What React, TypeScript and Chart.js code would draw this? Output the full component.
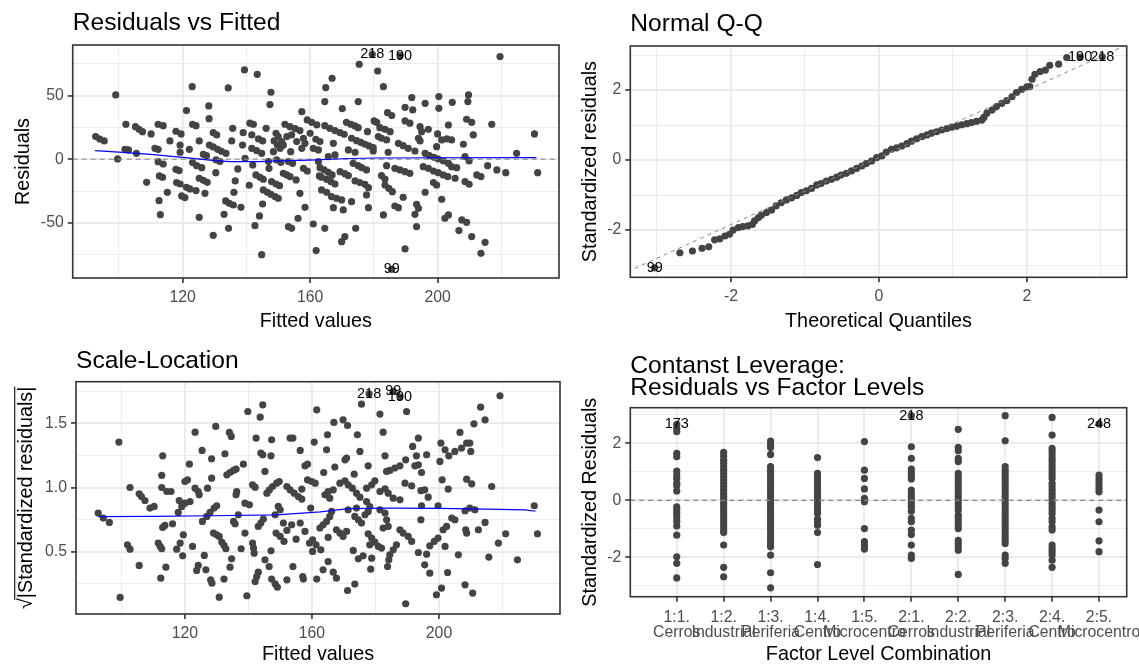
import React, { useEffect, useRef } from 'react';
import { Chart, registerables } from 'chart.js';

Chart.register(...registerables);

const FONT = '"Liberation Sans", Arial, Helvetica, sans-serif';
const POINT_COLOR = '#444444';
const GRID_COLOR = '#EBEBEB';
const AXIS_COLOR = '#333333';
const TICK_TEXT = '#4D4D4D';
const SMOOTH_COLOR = '#0000FF';
const REF_COLOR = '#888888';
const POINT_RADIUS = 3.6;
const TITLE_SIZE = 24.6;

type Pt = [number, number];

// ---------------- Residuals vs Fitted ----------------
const FIT_MIN = 85.5;
const FIT_MAX = 238.1;
const RES_MIN = -93.2;
const RES_MAX = 89.7;
const fittedTicks = [100, 120, 140, 160, 180, 200, 220];
const fittedMajor = [120, 160, 200];
const residTicks = [-75, -50, -25, 0, 25, 50, 75];
const residMajor = [-50, 0, 50];

const residVsFitted: Pt[] = [
  [92.7, 17.8], [94.0, 15.9], [95.4, 14.4], [99.0, 50.5], [99.6, 0.3], [102.2, 27.5], [101.9, 7.8], [103.0, 7.3], [105.2, 25.6], [106.3, 23.5],
  [107.4, 21.7], [105.5, 4.7], [108.7, -18.1], [110.1, 19.9], [111.3, 8.6], [112.3, 7.8], [112.3, 27.5], [113.9, 26.4], [112.3, -1.9], [113.9, -3.7],
  [112.7, -13.1], [113.7, -14.1], [112.6, -32.5], [113.0, -43.5], [115.2, -25.9], [116.0, 14.4], [117.9, 22.0], [119.5, 19.9], [117.9, -7.9], [118.9, -8.9],
  [118.1, -18.3], [119.2, -19.4], [119.2, 11.2], [119.2, 5.5], [119.7, -28.8], [120.7, -30.1], [121.2, 38.2], [121.2, -22.0], [122.3, -23.3], [122.1, 7.8],
  [123.0, 57.0], [123.1, 27.5], [124.2, 26.4], [123.1, -2.6], [124.4, -5.0], [126.0, -6.6], [124.2, -24.6], [125.2, 14.4], [125.2, -14.9], [126.5, -16.5],
  [127.7, -18.1], [125.2, -45.6], [126.5, 3.9], [127.5, 2.9], [127.0, -26.7], [128.2, 41.9], [128.3, 31.9], [128.4, 11.2], [129.6, 9.7], [131.0, 7.8],
  [132.2, 6.3], [133.6, 4.7], [129.6, 20.9], [130.7, 19.1], [129.6, -59.7], [130.4, -10.5], [130.5, -0.5], [131.7, -1.8], [133.0, -43.2], [133.5, -32.7],
  [134.6, -34.6], [135.9, -35.9], [134.3, 56.0], [134.4, -54.2], [135.4, 14.4], [135.7, 24.3], [136.1, -25.9], [136.5, -17.0], [137.3, -7.6], [138.3, -37.7],
  [138.8, 11.2], [139.0, 20.9], [139.4, 70.1], [139.6, 0.8], [140.9, -20.4], [141.1, 28.3], [142.2, 27.5], [141.7, 19.1], [141.7, 8.6], [143.2, 6.8],
  [144.8, 4.7], [142.0, -4.5], [142.7, -52.1], [143.4, 66.7], [143.8, 16.0], [145.1, 14.4], [143.0, -12.3], [144.3, -14.1], [145.3, -15.7], [144.1, -44.5],
  [144.8, -74.9], [145.1, -35.1], [145.3, -24.1], [146.6, -25.9], [147.7, -27.5], [149.0, -29.3], [150.0, -30.6], [146.2, 24.3], [146.9, -1.8], [147.1, -7.1],
  [147.4, 42.9], [147.7, 52.6], [147.9, -17.5], [149.3, -19.4], [150.4, -20.7], [149.3, 20.4], [150.0, 17.8], [151.1, 13.9], [151.6, 11.2], [148.7, 14.4],
  [149.7, 11.2], [150.6, 8.6], [151.6, -11.0], [152.7, -12.3], [153.7, -13.6], [152.1, 27.5], [153.7, 25.6], [155.3, 24.1], [156.8, 22.5], [153.2, -52.9],
  [154.2, -54.2], [153.9, 6.0], [155.6, -16.2], [156.2, -46.3], [156.8, -26.7], [157.4, 37.4], [157.4, 8.6], [158.4, 12.5], [157.9, -7.1], [159.1, -9.2],
  [158.4, -37.7], [159.1, 30.9], [160.5, 29.0], [162.1, 27.0], [160.0, 20.4], [161.0, -50.8], [161.9, -71.7], [161.0, 8.6], [162.6, 7.3], [162.6, -1.8],
  [162.9, -13.1], [153.2, -1.8], [154.5, -3.2], [149.5, -0.5], [150.8, -2.4], [148.5, 6.0], [152.7, 17.8], [155.8, 13.9], [154.2, 19.1], [157.9, 16.5],
  [175.4, 74.6], [179.5, 82.4], [188.2, 81.4], [181.2, 69.3], [166.9, 63.6], [164.9, 56.3], [164.6, 45.3], [175.1, 45.3], [183.0, 57.0], [170.1, 39.8],
  [191.9, 48.4], [189.8, 40.8], [192.2, 38.7], [196.1, 43.9], [200.4, 49.2], [200.4, 40.0], [204.6, 44.7], [209.7, 50.5], [209.5, 45.3], [219.6, 80.6],
  [184.3, 36.6], [185.6, 34.3], [180.1, 30.1], [180.9, 29.0], [189.8, 30.1], [191.3, 28.3], [194.5, 25.6], [195.0, 21.7], [197.1, 23.5], [209.1, 31.4],
  [210.7, 29.0], [217.0, 27.5], [230.4, 19.9], [164.6, 26.4], [166.2, 24.3], [167.8, 22.5], [169.4, 20.9], [170.7, 19.6], [171.4, 29.0], [172.8, 27.5],
  [174.1, 26.2], [175.1, 24.8], [178.0, 21.7], [181.9, 24.8], [183.5, 23.5], [185.1, 21.7], [200.0, 19.9], [203.4, 26.9], [211.2, 19.1], [161.8, 15.7],
  [163.1, 13.9], [167.3, 12.5], [173.0, 16.5], [174.6, 14.6], [175.9, 13.3], [177.2, 11.8], [178.5, 10.5], [179.8, 9.1], [181.4, 17.8], [182.4, 16.5],
  [184.0, 15.2], [187.7, 12.5], [189.2, 10.7], [190.8, 8.6], [194.0, 16.5], [194.5, 14.4], [201.3, 15.2], [202.9, 16.0], [204.4, 15.2], [199.7, 9.9],
  [208.1, 11.8], [172.0, 7.3], [174.1, 5.5], [167.8, 3.4], [165.7, 2.1], [224.8, 4.7], [179.8, 6.5], [184.5, 5.5], [192.9, 6.5], [196.1, 4.7],
  [197.4, 2.9], [198.9, 1.6], [200.2, 0.2], [201.8, -1.3], [203.4, -3.2], [208.6, 2.1], [209.9, -1.3], [215.7, -5.0], [218.6, -8.4], [221.4, -10.5],
  [231.4, -10.5], [163.1, -6.6], [164.4, -8.4], [165.7, -10.2], [166.9, -12.3], [163.6, -14.1], [165.2, -15.7], [166.5, -17.5], [167.8, -19.4], [169.4, -9.7],
  [170.9, -11.3], [172.0, -12.8], [173.5, -3.2], [175.1, -5.0], [174.1, -17.0], [175.6, -18.3], [177.2, -19.7], [176.2, -6.6], [177.7, -8.4], [184.0, -5.0],
  [186.6, -7.1], [188.2, -8.4], [189.8, -9.7], [191.3, -11.0], [195.5, -5.8], [197.1, -7.1], [198.7, -9.2], [200.2, -10.5], [201.8, -12.3], [203.2, -13.6],
  [204.4, -5.8], [206.0, -6.6], [205.5, -14.9], [208.6, -17.5], [209.9, -19.6], [212.3, -12.3], [213.6, -13.6], [182.4, -12.8], [183.5, -15.5], [178.3, -22.3],
  [183.5, -20.2], [184.7, -22.8], [185.8, -25.4], [198.7, -18.3], [199.7, -20.2], [196.1, -25.9], [163.6, -24.1], [165.2, -25.9], [166.7, -29.3], [168.3, -30.6],
  [169.9, -31.9], [173.0, -33.3], [177.7, -28.0], [178.3, -38.0], [189.2, -29.8], [186.6, -36.7], [187.7, -38.0], [167.3, -38.0], [170.4, -39.8], [183.0, -43.7],
  [193.4, -35.3], [194.0, -38.5], [192.9, -43.2], [201.3, -31.4], [202.3, -46.3], [203.4, -43.7], [207.6, -47.6], [209.1, -49.5], [164.6, -54.2], [174.3, -54.2],
  [170.9, -60.7], [169.9, -64.7], [193.4, -52.9], [206.7, -56.0], [210.7, -60.7], [214.9, -65.2], [213.6, -73.8], [189.8, -70.4], [185.6, -86.4],
];
const residSmooth: Pt[] = [
  [92.5, 6.8], [100, 5.6], [110, 3.9], [120, 1.5], [130, -1.0], [135, -1.8], [144, -1.8], [150, -1.2],
  [160, -0.6], [170, 0.4], [180, 1.0], [200, 1.2], [231, 1.3],
];
const residLabelText = ['218', '190', '99'];
const residLabelPos: Pt[] = [[179.5, 82.4], [188.2, 81.4], [185.6, -86.4]];

// ---------------- Normal Q-Q ----------------
const QQX_MIN = -3.36;
const QQX_MAX = 3.35;
const QQY_MIN = -3.35;
const QQY_MAX = 3.26;
const qqTicks = [-3, -2, -1, 0, 1, 2, 3];
const qqMajor = [-2, 0, 2];
const qqPoints: Pt[] = [
  [-3.03, -3.08], [-2.69, -2.65], [-2.52, -2.60], [-2.39, -2.52], [-2.30, -2.48], [-2.22, -2.28], [-2.15, -2.25], [-2.08, -2.17], [-2.02, -2.12], [-1.97, -2.00],
  [-1.90, -1.93], [-1.84, -1.90], [-1.77, -1.88], [-1.71, -1.84], [-1.68, -1.74], [-1.63, -1.65], [-1.59, -1.58], [-1.52, -1.50], [-1.45, -1.43], [-1.39, -1.31],
  [-1.32, -1.22], [-1.25, -1.14], [-1.18, -1.08], [-1.11, -1.01], [-1.05, -0.93], [-0.98, -0.88], [-0.91, -0.81], [-0.84, -0.71], [-0.78, -0.67], [-0.71, -0.60],
  [-0.64, -0.55], [-0.57, -0.49], [-0.51, -0.43], [-0.44, -0.38], [-0.37, -0.31], [-0.30, -0.24], [-0.23, -0.17], [-0.17, -0.10], [-0.10, -0.03], [-0.03, 0.07],
  [0.04, 0.12], [0.10, 0.23], [0.17, 0.31], [0.24, 0.35], [0.31, 0.40], [0.38, 0.47], [0.44, 0.54], [0.51, 0.61], [0.58, 0.67], [0.65, 0.72],
  [0.71, 0.77], [0.78, 0.81], [0.85, 0.86], [0.92, 0.90], [0.98, 0.94], [1.05, 0.97], [1.12, 1.01], [1.19, 1.04], [1.25, 1.07], [1.32, 1.11],
  [1.39, 1.14], [1.42, 1.22], [1.46, 1.34], [1.53, 1.43], [1.59, 1.53], [1.66, 1.62], [1.73, 1.70], [1.80, 1.81], [1.86, 1.93], [1.93, 2.02],
  [2.00, 2.09], [2.04, 2.10], [2.07, 2.31], [2.11, 2.45], [2.18, 2.53], [2.25, 2.57], [2.31, 2.71], [2.43, 2.74], [2.54, 2.93], [2.72, 2.94],
  [3.02, 2.95],
];
const qqLine: Pt[] = [[-3.4, -3.19], [3.4, 3.34]];
const qqLabelText = ['99', '190', '218'];
const qqLabelPos: Pt[] = [[-3.03, -3.08], [2.72, 2.94], [3.02, 2.95]];

// ---------------- Scale-Location ----------------
const SL_MIN = 0.015;
const SL_MAX = 1.824;
const slTicks = [0.25, 0.5, 0.75, 1.0, 1.25, 1.5, 1.75];
const slMajor = [0.5, 1.0, 1.5];
const scaleLocation: Pt[] = [
  [92.7, 0.801], [94.3, 0.762], [96.2, 0.728], [99.2, 1.354], [99.6, 0.144], [101.9, 0.554], [102.7, 0.520], [102.7, 1.000], [105.6, 0.951], [106.3, 0.930],
  [107.4, 0.899], [109.0, 0.840], [110.3, 0.853], [105.6, 0.393], [111.6, 0.567], [112.2, 0.541], [112.7, 0.523], [112.4, 0.294], [113.0, 1.247], [112.7, 1.094],
  [112.7, 1.000], [114.3, 0.969], [115.6, 0.969], [113.0, 0.689], [113.7, 0.705], [114.0, 0.380], [116.1, 0.718], [117.4, 0.520], [118.5, 0.567], [117.9, 0.806],
  [119.0, 0.853], [120.0, 0.878], [121.6, 0.891], [118.2, 0.899], [119.3, 0.468], [119.5, 0.632], [120.0, 1.047], [120.8, 1.060], [121.4, 1.182], [122.4, 0.541],
  [123.2, 1.431], [123.2, 0.995], [124.2, 0.969], [124.5, 0.943], [123.7, 0.354], [124.2, 0.393], [125.4, 1.289], [125.5, 0.736], [126.9, 0.775], [126.1, 0.471],
  [126.6, 0.359], [127.1, 0.995], [128.4, 1.224], [128.4, 1.073], [128.1, 0.281], [128.5, 0.255], [127.9, 0.806], [129.2, 0.840], [130.0, 0.858], [129.0, 0.645],
  [130.0, 0.632], [130.8, 0.619], [129.7, 1.476], [130.8, 0.146], [131.6, 0.575], [132.3, 0.549], [132.9, 0.523], [132.3, 0.287], [132.6, 1.263], [133.2, 1.099],
  [134.2, 1.117], [135.3, 1.133], [136.1, 1.143], [134.0, 1.429], [134.6, 1.398], [134.2, 0.380], [134.7, 0.445], [135.3, 0.736], [135.8, 0.718], [136.3, 0.969],
  [136.1, 0.943], [136.8, 0.788], [137.7, 0.523], [138.4, 1.182], [138.9, 0.878], [140.3, 0.865], [138.9, 0.645], [139.5, 0.157], [139.8, 1.592], [141.3, 1.021],
  [142.1, 1.003], [141.3, 0.567], [141.6, 0.528], [141.8, 0.489], [142.1, 0.268], [142.6, 0.307], [143.1, 0.341], [142.4, 1.385], [143.1, 0.697], [143.9, 0.723],
  [144.7, 0.754], [143.7, 1.548], [143.9, 1.268], [144.5, 1.255], [144.5, 1.644], [145.2, 1.125], [145.2, 0.437], [145.8, 0.956], [146.6, 0.982], [147.6, 1.008],
  [148.9, 1.034], [149.7, 1.047], [146.5, 0.385], [147.1, 0.507], [147.3, 1.372], [147.1, 1.247], [147.3, 0.287], [148.4, 0.250], [149.1, 0.224], [148.4, 0.788],
  [149.4, 0.853], [150.0, 0.827], [148.7, 0.645], [150.0, 0.619], [151.2, 0.580], [151.0, 0.723], [152.1, 0.666], [152.1, 1.008], [153.1, 0.982], [154.4, 0.956],
  [155.7, 0.930], [156.8, 0.910], [152.1, 0.281], [153.1, 1.385], [154.0, 1.385], [153.6, 0.710], [154.0, 0.385], [155.0, 0.598], [156.3, 1.289], [156.3, 0.723],
  [157.8, 0.658], [156.8, 0.988], [157.1, 0.307], [157.3, 0.287], [157.8, 1.169], [158.6, 1.182], [158.6, 1.060], [159.9, 1.047], [161.0, 1.034], [159.2, 0.567],
  [160.2, 0.593], [161.3, 0.554], [159.6, 0.840], [160.2, 0.502], [160.7, 1.354], [161.5, 1.605], [161.5, 0.287],
  [178.0, 1.730], [185.6, 1.748], [187.7, 1.704], [164.9, 1.411], [164.6, 1.294], [166.9, 1.507], [169.8, 1.527], [171.2, 1.483], [174.3, 1.411], [175.1, 1.281],
  [175.6, 1.649], [181.4, 1.572], [182.4, 1.431], [183.0, 1.247], [189.8, 1.592], [193.5, 1.385], [191.7, 1.320], [189.5, 1.216], [187.7, 1.169], [186.1, 1.151],
  [184.5, 1.133], [183.5, 1.125], [192.4, 1.169], [193.5, 1.177], [192.9, 1.247], [196.1, 1.255], [194.5, 1.117], [177.7, 1.169], [179.8, 1.052], [178.8, 1.021],
  [177.2, 0.995], [167.2, 1.159], [170.4, 1.216], [170.9, 1.229], [163.7, 1.117], [173.3, 1.104], [168.8, 1.034], [170.4, 1.052], [171.4, 1.021], [172.7, 0.995],
  [174.0, 0.956], [175.1, 0.925], [164.1, 0.943], [165.1, 0.969], [166.7, 0.982], [165.6, 0.917], [183.0, 0.990], [184.0, 0.956], [185.6, 0.917], [187.7, 0.904],
  [181.4, 0.969], [189.3, 1.034], [191.4, 1.013], [194.3, 0.975], [195.5, 0.982], [196.6, 0.925], [201.0, 1.060], [202.9, 0.988], [200.3, 1.203], [201.9, 1.294],
  [203.1, 1.247], [205.0, 1.281], [200.6, 1.346], [206.6, 1.429], [207.1, 1.307], [208.7, 1.346], [209.7, 1.346], [210.0, 1.281], [211.0, 1.496], [213.1, 1.626],
  [214.5, 1.527], [219.2, 1.714], [208.7, 1.065], [210.3, 1.029], [216.6, 1.008], [177.2, 0.891], [178.2, 0.852], [177.7, 0.814], [176.7, 0.788], [174.0, 0.840],
  [173.5, 0.775], [174.6, 0.749], [175.6, 0.723], [171.4, 0.827], [170.9, 0.658], [169.8, 0.619], [167.7, 0.671], [168.8, 0.645], [166.2, 0.814], [165.6, 0.775],
  [164.6, 0.736], [163.5, 0.710], [162.5, 0.684], [165.1, 0.611], [162.8, 0.515], [177.7, 0.640], [178.8, 0.606], [179.8, 0.575], [180.9, 0.541], [181.9, 0.528],
  [178.2, 0.554], [181.4, 0.827], [183.0, 0.801], [183.5, 0.749], [184.0, 0.697], [182.4, 0.684], [187.7, 0.671], [188.7, 0.645], [190.3, 0.619], [191.4, 0.580],
  [186.6, 0.554], [185.6, 0.515], [184.5, 0.476], [184.2, 0.437], [173.0, 0.510], [174.6, 0.445], [176.1, 0.468], [178.8, 0.450], [178.5, 0.364], [183.8, 0.385],
  [194.5, 0.858], [193.5, 0.494], [196.1, 0.481], [195.5, 0.398], [197.1, 0.333], [194.3, 0.749], [197.1, 0.546], [198.5, 0.580], [199.7, 0.606], [201.3, 0.671],
  [202.4, 0.697], [201.9, 0.541], [199.7, 0.858], [204.0, 0.762], [205.0, 0.749], [202.7, 0.338], [206.1, 0.476], [208.7, 0.645], [208.4, 0.671], [208.2, 0.819],
  [209.7, 0.840], [211.3, 0.827], [212.4, 0.671], [214.5, 0.728], [215.7, 0.458], [218.7, 0.567], [221.0, 0.640], [224.7, 0.437], [230.0, 0.858], [231.0, 0.640],
  [165.1, 0.424], [163.5, 0.359], [166.7, 0.341], [167.7, 0.294], [173.5, 0.248], [171.2, 0.198], [200.8, 0.217], [199.2, 0.165], [208.2, 0.242], [210.6, 0.178],
  [189.5, 0.095],
];
const slSmooth: Pt[] = [
  [92.7, 0.774], [110, 0.776], [128.4, 0.78], [148.9, 0.787], [162.6, 0.81], [171.4, 0.835], [185, 0.84],
  [200, 0.838], [215, 0.832], [227.2, 0.826], [230.4, 0.815],
];
const slLabelText = ['218', '99', '190'];
const slLabelPos: Pt[] = [[178.0, 1.730], [185.6, 1.748], [187.7, 1.704]];
const SL_YTITLE = '\u221A|Standardized residuals|';

// ---------------- Residuals vs Factor Levels ----------------
const LEV_MIN = -0.99;
const LEV_MAX = 9.59;
const LEVY_MIN = -3.38;
const LEVY_MAX = 3.25;
const levTicks = [0, 1, 2, 3, 4, 5, 6, 7, 8, 9];
const levYTicks = [-3, -2, -1, 0, 1, 2, 3];
const levYMajor = [-2, 0, 2];
const factorLabels: string[][] = [
  ['1:1.', 'Cerros'], ['1:2.', 'Industrial'], ['1:3.', 'Periferia'], ['1:4.', 'Centro'], ['1:5.', 'Microcentro'],
  ['2:1.', 'Cerros'], ['2:2.', 'Industrial'], ['2:3.', 'Periferia'], ['2:4.', 'Centro'], ['2:5.', 'Microcentro'],
];
const lev11Cerros = [2.67, 2.53, 2.41, 1.65, 1.53, 1.03, 0.89, 0.77, 0.60, 0.51, 0.33, -0.23, -0.34, -0.46, -0.58, -0.73, -0.90, -1.22, -1.98, -2.21, -2.72];
const lev12Industrial = [1.68, 1.55, 1.41, 1.30, 1.18, 1.06, 0.95, 0.83, 0.71, 0.60, 0.48, 0.36, 0.24, 0.13, 0.01, -0.11, -0.23, -0.34, -0.46, -0.58, -0.69, -0.81, -0.93, -1.04, -1.13, -1.57, -2.35, -2.68];
const lev13Periferia = [2.08, 1.96, 1.85, 1.61, 1.18, 1.06, 0.95, 0.83, 0.71, 0.60, 0.48, 0.36, 0.24, 0.13, 0.01, -0.11, -0.23, -0.34, -0.46, -0.58, -0.69, -0.81, -0.93, -1.04, -1.16, -1.28, -1.40, -1.51, -1.63, -1.92, -2.54, -3.07];
const lev14Centro = [1.50, 0.95, 0.83, 0.71, 0.60, 0.48, 0.36, 0.24, 0.13, 0.01, -0.11, -0.23, -0.34, -0.46, -0.66, -0.78, -0.87, -1.13, -2.25];
const lev15Microcentro = [2.06, 1.06, 0.77, 0.40, 0.07, -0.05, -0.99, -1.45, -1.59, -1.71];
const lev21Cerros = [2.97, 1.88, 1.47, 1.10, 0.98, 0.86, 0.75, 0.36, 0.24, 0.13, 0.01, -0.11, -0.23, -0.38, -0.63, -0.75, -1.04, -1.20, -1.57, -1.92, -2.04];
const lev22Industrial = [2.49, 1.86, 1.74, 1.47, 1.36, 0.95, 0.83, 0.71, 0.60, 0.48, 0.36, 0.24, 0.13, 0.01, -0.11, -0.23, -0.34, -0.52, -0.63, -0.75, -0.87, -0.99, -1.40, -1.51, -1.63, -1.75, -2.60];
const lev23Periferia = [2.97, 2.09, 1.18, 1.06, 0.95, 0.83, 0.71, 0.60, 0.48, 0.36, 0.24, 0.13, 0.01, -0.11, -0.23, -0.34, -0.46, -0.58, -0.69, -0.81, -0.93, -1.04, -1.16, -1.28, -1.40, -1.51, -1.92, -2.04, -2.21];
const lev24Centro = [2.91, 2.29, 1.82, 1.71, 1.59, 1.47, 1.36, 1.24, 1.12, 1.00, 0.89, 0.77, 0.60, 0.48, 0.36, 0.24, 0.13, 0.01, -0.11, -0.23, -0.34, -0.46, -0.63, -0.75, -0.93, -1.04, -1.57, -1.69, -1.80, -1.92, -2.10, -2.35];
const lev25Microcentro = [2.68, 0.89, 0.77, 0.65, 0.54, 0.42, 0.30, -0.34, -0.75, -1.42, -1.80];
const levelGroups = [
  lev11Cerros, lev12Industrial, lev13Periferia, lev14Centro, lev15Microcentro,
  lev21Cerros, lev22Industrial, lev23Periferia, lev24Centro, lev25Microcentro,
];
const levLabelText = ['173', '218', '248'];
const levLabelPos: Pt[] = [[0, 2.67], [5, 2.97], [9, 2.68]];

// ---------------- helpers ----------------
const isIn = (arr: number[], v: number) => arr.some((m) => Math.abs(m - v) < 1e-9);

interface AxisSpec {
  min: number;
  max: number;
  ticks: number[];
  majors: number[];
  fmt: (v: number) => string | string[];
  size: number;
  horizontal: boolean;
  title: string;
  titlePad: { top: number; bottom: number };
  tickPad: number;
  tickLineHeight?: number;
}

function makeAxis(s: AxisSpec) {
  return {
    type: 'linear',
    position: s.horizontal ? 'bottom' : 'left',
    min: s.min,
    max: s.max,
    bounds: 'data',
    afterBuildTicks: (scale: any) => {
      scale.ticks = s.ticks.map((v) => ({ value: v }));
    },
    afterFit: (scale: any) => {
      if (s.horizontal) scale.height = s.size;
      else scale.width = s.size;
      scale.paddingLeft = 0;
      scale.paddingRight = 0;
      scale.paddingTop = 0;
      scale.paddingBottom = 0;
    },
    grid: {
      color: GRID_COLOR,
      lineWidth: (c: any) => (c.tick && isIn(s.majors, c.tick.value) ? 1.9 : 0.95),
      tickColor: (c: any) => (c.tick && isIn(s.majors, c.tick.value) ? AXIS_COLOR : 'rgba(0,0,0,0)'),
      tickWidth: 1.6,
      tickLength: 5,
      drawTicks: true,
      drawOnChartArea: true,
    },
    border: { display: false },
    ticks: {
      autoSkip: false,
      maxRotation: 0,
      minRotation: 0,
      padding: s.tickPad,
      color: TICK_TEXT,
      font: { family: FONT, size: 15.8, lineHeight: s.tickLineHeight ?? 1.2 },
      callback: (v: number) => (isIn(s.majors, v) ? s.fmt(v) : ''),
    },
    title: {
      display: true,
      text: s.title,
      color: '#000000',
      font: { family: FONT, size: 19.8, lineHeight: 1 },
      padding: s.titlePad,
    },
  };
}

function makeTitle(text: string | string[], top: number, bottom: number, lineHeight = 1.2) {
  return {
    display: true,
    text,
    align: 'start',
    fullSize: false,
    color: '#000000',
    font: { family: FONT, size: TITLE_SIZE, weight: 'normal', lineHeight },
    padding: { top, bottom },
  };
}

function decoPlugin(texts: string[], pos: Pt[], extra?: (chart: any) => void) {
  return {
    id: 'panelDeco',
    afterDatasetsDraw(chart: any) {
      const { ctx, scales } = chart;
      ctx.save();
      ctx.font = `14.5px ${FONT}`;
      ctx.fillStyle = '#000000';
      ctx.textAlign = 'center';
      ctx.textBaseline = 'middle';
      texts.forEach((t, i) => {
        ctx.fillText(t, scales.x.getPixelForValue(pos[i][0]), scales.y.getPixelForValue(pos[i][1]));
      });
      ctx.restore();
    },
    afterDraw(chart: any) {
      const { ctx, chartArea } = chart;
      ctx.save();
      ctx.strokeStyle = AXIS_COLOR;
      ctx.lineWidth = 1.6;
      ctx.strokeRect(chartArea.left, chartArea.top, chartArea.right - chartArea.left, chartArea.bottom - chartArea.top);
      ctx.restore();
      if (extra) extra(chart);
    },
  };
}

function baseOptions(xAxis: any, yAxis: any, title: any, padRight: number) {
  return {
    animation: false,
    responsive: false,
    maintainAspectRatio: false,
    devicePixelRatio: 1,
    events: [],
    layout: { padding: { left: 0, top: 0, right: padRight, bottom: 0 } },
    plugins: { legend: { display: false }, tooltip: { enabled: false }, title },
    scales: { x: xAxis, y: yAxis },
  };
}

const toXY = (arr: Pt[]) => arr.map(([x, y]) => ({ x, y }));

const pointDataset = (data: { x: number; y: number }[]) => ({
  type: 'scatter',
  data,
  pointRadius: POINT_RADIUS,
  pointBackgroundColor: POINT_COLOR,
  pointBorderWidth: 0,
  pointBorderColor: POINT_COLOR,
  showLine: false,
});

const lineDataset = (data: { x: number; y: number }[], color: string, width: number, dash: number[]) => ({
  type: 'line',
  data,
  borderColor: color,
  borderWidth: width,
  borderDash: dash,
  pointRadius: 0,
  fill: false,
  tension: 0,
});

// ---------------- chart configs ----------------
function cfgResid() {
  return {
    type: 'scatter',
    data: {
      datasets: [
        lineDataset(toXY(residSmooth), SMOOTH_COLOR, 1.2, []),
        lineDataset([{ x: FIT_MIN, y: 0 }, { x: FIT_MAX, y: 0 }], REF_COLOR, 1.2, [5, 4]),
        pointDataset(toXY(residVsFitted)),
      ],
    },
    options: baseOptions(
      makeAxis({ min: FIT_MIN, max: FIT_MAX, ticks: fittedTicks, majors: fittedMajor, fmt: (v) => String(v), size: 62, horizontal: true, title: 'Fitted values', titlePad: { top: 0, bottom: 8.1 }, tickPad: 5 }),
      makeAxis({ min: RES_MIN, max: RES_MAX, ticks: residTicks, majors: residMajor, fmt: (v) => String(v), size: 72.7, horizontal: false, title: 'Residuals', titlePad: { top: 14.1, bottom: 0 }, tickPad: 4 }),
      makeTitle('Residuals vs Fitted', 8.94, 6.54),
      11
    ),
    plugins: [decoPlugin(residLabelText, residLabelPos)],
  };
}

function cfgQQ() {
  return {
    type: 'scatter',
    data: {
      datasets: [
        lineDataset(toXY(qqLine), REF_COLOR, 1, [4, 4]),
        pointDataset(toXY(qqPoints)),
      ],
    },
    options: baseOptions(
      makeAxis({ min: QQX_MIN, max: QQX_MAX, ticks: qqTicks, majors: qqMajor, fmt: (v) => String(v), size: 62.7, horizontal: true, title: 'Theoretical Quantiles', titlePad: { top: 0, bottom: 8.1 }, tickPad: 5 }),
      makeAxis({ min: QQY_MIN, max: QQY_MAX, ticks: qqTicks, majors: qqMajor, fmt: (v) => String(v), size: 55.3, horizontal: false, title: 'Standardized residuals', titlePad: { top: 6.1, bottom: 0 }, tickPad: 4 }),
      makeTitle('Normal Q-Q', 9.94, 6.54),
      12.3
    ),
    plugins: [decoPlugin(qqLabelText, qqLabelPos)],
  };
}

const SL_YTITLE_PAD = 17.1;

function drawSqrtBar(chart: any) {
  const y = chart.scales.y;
  const ctx = chart.ctx;
  ctx.save();
  ctx.font = `19.8px ${FONT}`;
  const W = ctx.measureText(SL_YTITLE).width;
  const wr = ctx.measureText('\u221A').width;
  const titleX = y.left + SL_YTITLE_PAD + 9.9;
  const cy = (y.top + y.bottom) / 2;
  const ox = titleX - 12.3;
  ctx.strokeStyle = '#000000';
  ctx.lineWidth = 1.1;
  ctx.beginPath();
  ctx.moveTo(ox, cy + W / 2 - wr + 1.5);
  ctx.lineTo(ox, cy - W / 2);
  ctx.stroke();
  ctx.restore();
}

function cfgScale() {
  return {
    type: 'scatter',
    data: {
      datasets: [
        lineDataset(toXY(slSmooth), SMOOTH_COLOR, 1.2, []),
        pointDataset(toXY(scaleLocation)),
      ],
    },
    options: baseOptions(
      makeAxis({ min: FIT_MIN + 0.2, max: FIT_MAX, ticks: fittedTicks, majors: fittedMajor, fmt: (v) => String(v), size: 52, horizontal: true, title: 'Fitted values', titlePad: { top: 0, bottom: 1.1 }, tickPad: 5 }),
      makeAxis({ min: SL_MIN, max: SL_MAX, ticks: slTicks, majors: slMajor, fmt: (v) => v.toFixed(1), size: 76, horizontal: false, title: SL_YTITLE, titlePad: { top: SL_YTITLE_PAD, bottom: 0 }, tickPad: 4 }),
      makeTitle('Scale-Location', 6.44, 5.74),
      10
    ),
    plugins: [decoPlugin(slLabelText, slLabelPos, drawSqrtBar)],
  };
}

function cfgLev() {
  const pts: { x: number; y: number }[] = [];
  levelGroups.forEach((g, i) => g.forEach((v) => pts.push({ x: i, y: v })));
  return {
    type: 'scatter',
    data: {
      datasets: [
        lineDataset([{ x: LEV_MIN, y: 0 }, { x: LEV_MAX, y: 0 }], REF_COLOR, 1.2, [5, 4]),
        pointDataset(pts),
      ],
    },
    options: baseOptions(
      makeAxis({ min: LEV_MIN, max: LEV_MAX, ticks: levTicks, majors: levTicks, fmt: (v) => factorLabels[Math.round(v)], size: 69.3, horizontal: true, title: 'Factor Level Combination', titlePad: { top: 0, bottom: 1.1 }, tickPad: 9.2, tickLineHeight: 0.9 }),
      makeAxis({ min: LEVY_MIN, max: LEVY_MAX, ticks: levYTicks, majors: levYMajor, fmt: (v) => String(v), size: 55.3, horizontal: false, title: 'Standardized Residuals', titlePad: { top: 6.1, bottom: 0 }, tickPad: 4 }),
      makeTitle(['Contanst Leverage:', 'Residuals vs Factor Levels'], 15.7, 8, 22 / TITLE_SIZE),
      12.3
    ),
    plugins: [decoPlugin(levLabelText, levLabelPos)],
  };
}

// ---------------- components ----------------
function ChartCanvas(props: { left: number; top: number; width: number; height: number; make: () => any }) {
  const ref = useRef<HTMLCanvasElement | null>(null);
  useEffect(() => {
    if (!ref.current) return;
    const chart = new Chart(ref.current, props.make());
    return () => chart.destroy();
  }, []);
  return (
    <canvas
      ref={ref}
      width={props.width}
      height={props.height}
      style={{ position: 'absolute', left: props.left, top: props.top, width: props.width, height: props.height, display: 'block' }}
    />
  );
}

export default function App() {
  useEffect(() => {
    document.body.style.margin = '0';
  }, []);
  return (
    <div style={{ position: 'fixed', left: 0, top: 0, width: 1139, height: 666, background: '#ffffff', overflow: 'hidden' }}>
      <ChartCanvas left={0} top={0} width={570} height={340} make={cfgResid} />
      <ChartCanvas left={575} top={0} width={564} height={340} make={cfgQQ} />
      <ChartCanvas left={0} top={340} width={570} height={326} make={cfgScale} />
      <ChartCanvas left={575} top={340} width={564} height={326} make={cfgLev} />
    </div>
  );
}
